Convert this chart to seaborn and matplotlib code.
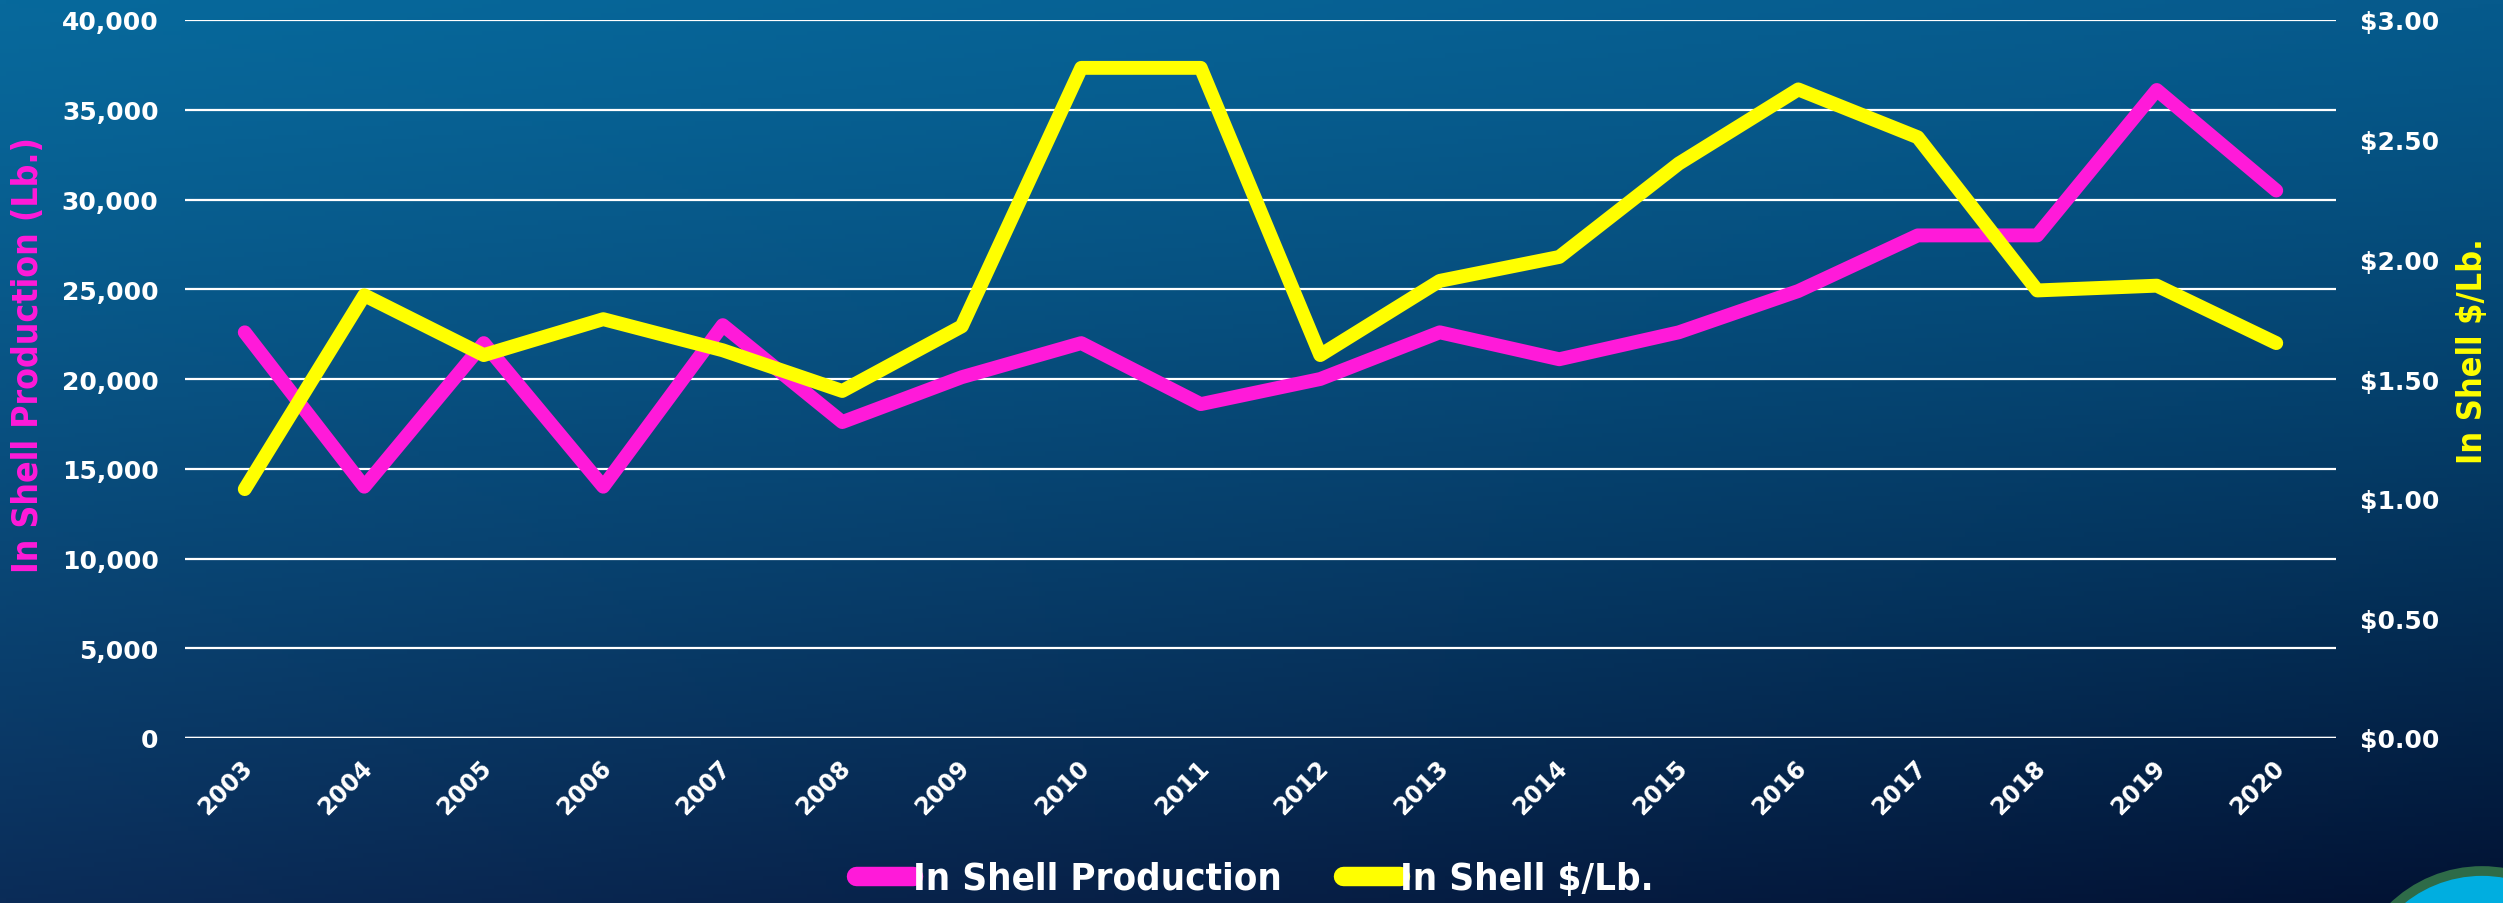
import numpy as np
import pandas as pd
import matplotlib
matplotlib.use("Agg")
import matplotlib.pyplot as plt
import seaborn as sns
from matplotlib.patches import Ellipse
from matplotlib.lines import Line2D
import matplotlib.transforms as mtransforms

years = ["2003", "2004", "2005", "2006", "2007", "2008", "2009", "2010", "2011",
         "2012", "2013", "2014", "2015", "2016", "2017", "2018", "2019", "2020"]
production = [22600, 14000, 22000, 14000, 23000, 17600, 20100, 22000, 18600,
              20000, 22600, 21100, 22600, 24900, 28000, 28000, 36100, 30500]
price = [1.04, 1.85, 1.60, 1.75, 1.62, 1.45, 1.72, 2.80, 2.80,
         1.60, 1.91, 2.01, 2.40, 2.71, 2.51, 1.87, 1.89, 1.65]
left_ticks = [0, 5000, 10000, 15000, 20000, 25000, 30000, 35000, 40000]
right_ticks = [0, 0.5, 1.0, 1.5, 2.0, 2.5, 3.0]

MAGENTA = "#ff1ad9"
YELLOW = "#ffff00"

sns.set_theme(style="white")
plt.rcParams["font.family"] = ["DejaVu Sans"]

W, H = 2503, 904
fig = plt.figure(figsize=(W / 100, H / 100), dpi=100)

# background gradient
bg = fig.add_axes([0, 0, 1, 1], zorder=-10)
tl = np.array([0x07, 0x69, 0x9c]) / 255
tr = np.array([0x06, 0x5a, 0x8c]) / 255
bl = np.array([0x0b, 0x2c, 0x58]) / 255
br = np.array([0x02, 0x12, 0x33]) / 255
yy, xx = np.mgrid[0:1:200j, 0:1:400j]
yyn = yy ** 1.2
img = ((1 - yyn)[..., None] * ((1 - xx)[..., None] * tl + xx[..., None] * tr)
       + yyn[..., None] * ((1 - xx)[..., None] * bl + xx[..., None] * br))
bg.imshow(img, aspect="auto", extent=[0, 1, 0, 1], origin="upper")
bg.set_xlim(0, 1)
bg.set_ylim(0, 1)
bg.axis("off")
# partial logo at bottom right
bg.add_patch(Ellipse((2482 / W, 1 - 1000 / H), 2 * 128 / W, 2 * 128 / H,
                     facecolor="#00aee0", edgecolor="#2e6b48", linewidth=7))

left, right = 185 / W, 2336 / W
bottom, top = 1 - 739 / H, 1 - 21 / H
ax = fig.add_axes([left, bottom, right - left, top - bottom])
ax.set_facecolor("none")

x = np.arange(len(years))
df = pd.DataFrame({"x": x, "production": production, "price": price})

sns.lineplot(data=df, x="x", y="production", ax=ax, color=MAGENTA,
             linewidth=10, solid_capstyle="round", solid_joinstyle="round", zorder=3)
ax2 = ax.twinx()
ax2.set_facecolor("none")
sns.lineplot(data=df, x="x", y="price", ax=ax2, color=YELLOW,
             linewidth=10, solid_capstyle="round", solid_joinstyle="round", zorder=3)

ax.set_xlim(-0.5, len(years) - 0.5)
ax.set_ylim(0, 40000)
ax2.set_ylim(0, 3.0)

ax.set_yticks(left_ticks)
ax.set_yticklabels([f"{v:,}" for v in left_ticks])
ax2.set_yticks(right_ticks)
ax2.set_yticklabels([f"${v:.2f}" for v in right_ticks])

ax.set_xticks(x)
ax.set_xticklabels(years, rotation=45, ha="right", va="top", rotation_mode="anchor")
ax.set_xticks(np.arange(-0.5, len(years)), minor=True)
ax.tick_params(axis="x", which="major", length=0, pad=12, labelsize=17, labelcolor="white")
ax.tick_params(axis="x", which="minor", length=9, width=1.5, color="white")
for lab in ax.get_xticklabels():
    lab.set_fontweight("bold")
    lab.set_transform(lab.get_transform() + mtransforms.ScaledTranslation(-4 / 100, 0, fig.dpi_scale_trans))

ax.tick_params(axis="y", length=0, pad=19, labelsize=18, labelcolor="white")
ax2.tick_params(axis="y", length=0, pad=17, labelsize=18, labelcolor="white")
for lab in ax.get_yticklabels() + ax2.get_yticklabels():
    lab.set_fontweight("bold")

ax.grid(axis="y", color="white", linewidth=1.6)
ax.grid(axis="x", visible=False)
ax2.grid(False)
for a in (ax, ax2):
    for s in ["top", "left", "right", "bottom"]:
        a.spines[s].set_visible(False)
ax.axhline(0, color="white", linewidth=2.5, zorder=2)

COND = dict(family=["DejaVu Sans"], fontweight="bold", fontstretch="condensed")
ax.set_xlabel("")
ax.set_ylabel("In Shell Production (Lb.)", color=MAGENTA, fontsize=25.5, **COND)
ax2.set_ylabel("In Shell $/Lb.", color=YELLOW, fontsize=24.5, **COND)
ax.yaxis.set_label_coords(-0.065, 0.535)
ax2.yaxis.set_label_coords(1.056, 0.54)

handles = [Line2D([], [], color=MAGENTA, linewidth=14, solid_capstyle="round"),
           Line2D([], [], color=YELLOW, linewidth=14, solid_capstyle="round")]
leg = fig.legend(handles, ["In Shell Production", "In Shell $/Lb."],
                 loc="center", bbox_to_anchor=(1255 / W, 1 - 880 / H), ncol=2,
                 frameon=False, handlelength=1.5, handletextpad=0.0, columnspacing=1.6,
                 prop={"family": ["DejaVu Sans"], "weight": "bold",
                       "stretch": "condensed", "size": 27.5})
for t in leg.get_texts():
    t.set_color("white")

fig.savefig("out.png", dpi=100)
